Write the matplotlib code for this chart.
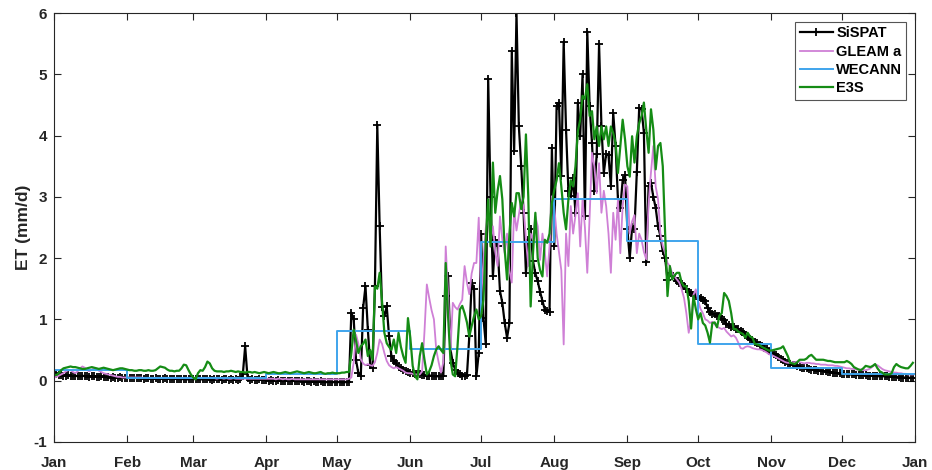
import numpy as np
import matplotlib
matplotlib.use('Agg')
import matplotlib.pyplot as plt

plt.rcParams['font.family'] = ['Liberation Sans', 'DejaVu Sans']
plt.rcParams['font.weight'] = 'bold'
plt.rcParams['axes.unicode_minus'] = False

month_labels = ['Jan', 'Feb', 'Mar', 'Apr', 'May', 'Jun', 'Jul',
                'Aug', 'Sep', 'Oct', 'Nov', 'Dec', 'Jan']
month_days = [31, 28, 31, 30, 31, 30, 31, 31, 30, 31, 30, 31]

# daily ET (mm/d), one line per month
sispat = [
    0.12, 0.10, 0.09, 0.09, 0.08, 0.08, 0.09, 0.08, 0.07, 0.08, 0.07, 0.07, 0.08, 0.07, 0.07, 0.06,
    0.07, 0.07, 0.06, 0.06, 0.07, 0.06, 0.06, 0.06, 0.05, 0.06, 0.05, 0.05, 0.06, 0.05, 0.05,
    0.05, 0.04, 0.04, 0.05, 0.04, 0.04, 0.04, 0.03, 0.04, 0.04, 0.03, 0.03, 0.04, 0.03, 0.03, 0.03,
    0.04, 0.03, 0.03, 0.02, 0.03, 0.03, 0.03, 0.02, 0.03, 0.02, 0.02, 0.03,
    0.02, 0.03, 0.02, 0.02, 0.02, 0.03, 0.02, 0.02, 0.01, 0.02, 0.02, 0.02, 0.01, 0.02, 0.02, 0.01,
    0.02, 0.01, 0.02, 0.01, 0.03, 0.10, 0.56, 0.05, 0.01, 0.02, 0.01, 0.01, 0.02, 0.01, 0.01,
    0.01, 0.00, 0.01, 0.00, 0.00, 0.01, 0.00, -0.01, 0.00, 0.00, -0.01, 0.00, -0.01, -0.01, 0.00,
    -0.01, -0.02, -0.01, -0.01, -0.02, -0.01, -0.02, -0.02, -0.01, -0.02, -0.03, -0.02, -0.02, -0.03, -0.02,
    -0.03, -0.02, -0.03, -0.03, -0.02, -0.03, 1.11, 1.00, 0.33, 0.12, 0.07, 1.19, 1.54, 0.83, 0.26, 0.21,
    1.54, 4.17, 2.52, 1.20, 1.05, 1.21, 0.72, 0.40, 0.32, 0.28, 0.22, 0.20, 0.17, 0.15, 0.14,
    0.13, 0.12, 0.11, 0.10, 0.10, 0.09, 0.09, 0.08, 0.08, 0.08, 0.07, 0.07, 0.07, 0.07, 0.08,
    1.38, 1.70, 0.51, 0.29, 0.18, 0.13, 0.10, 0.08, 0.07, 0.09, 0.72, 1.60, 1.50, 0.07, 0.45,
    2.39, 1.02, 0.59, 4.93, 3.00, 1.70, 2.30, 2.20, 1.46, 1.27, 0.94, 0.70, 0.94, 5.38, 3.75, 6.00,
    4.15, 3.50, 2.74, 1.76, 2.30, 2.47, 1.95, 1.75, 1.62, 1.45, 1.30, 1.16, 1.13, 1.12, 3.80,
    2.19, 4.48, 4.54, 3.34, 5.53, 4.10, 3.10, 3.01, 3.30, 2.74, 4.54, 3.99, 5.00, 2.68, 5.70, 4.48,
    3.88, 3.09, 3.70, 5.49, 4.16, 3.39, 3.70, 3.68, 3.17, 4.37, 3.83, 2.96, 2.82, 3.27, 3.35,
    2.47, 2.00, 2.50, 2.48, 3.40, 4.45, 4.43, 4.05, 1.93, 3.17, 3.23, 3.00, 2.82, 2.52, 2.36,
    2.11, 2.00, 1.65, 1.75, 1.70, 1.68, 1.62, 1.60, 1.58, 1.54, 1.50, 1.45, 1.43, 1.40, 1.38,
    1.36, 1.35, 1.31, 1.30, 1.18, 1.12, 1.09, 1.08, 1.06, 1.05, 1.01, 0.99, 0.93, 0.90, 0.87, 0.88,
    0.85, 0.84, 0.81, 0.80, 0.75, 0.71, 0.68, 0.66, 0.63, 0.62, 0.58, 0.56, 0.53, 0.51, 0.48,
    0.45, 0.43, 0.41, 0.38, 0.35, 0.34, 0.31, 0.29, 0.27, 0.26, 0.25, 0.23, 0.22, 0.21, 0.20,
    0.20, 0.19, 0.18, 0.17, 0.17, 0.16, 0.16, 0.15, 0.15, 0.14, 0.14, 0.13, 0.13, 0.12, 0.12,
    0.11, 0.11, 0.10, 0.10, 0.10, 0.10, 0.09, 0.09, 0.09, 0.09, 0.09, 0.08, 0.08, 0.08, 0.08, 0.07,
    0.07, 0.07, 0.07, 0.07, 0.06, 0.06, 0.06, 0.06, 0.06, 0.05, 0.05, 0.05, 0.05, 0.04, 0.05,
]

gleam = [
    0.05, 0.06, 0.08, 0.10, 0.12, 0.15, 0.17, 0.17, 0.14, 0.12, 0.15, 0.20, 0.23, 0.21, 0.17, 0.15,
    0.18, 0.20, 0.19, 0.16, 0.14, 0.12, 0.11, 0.10, 0.09, 0.08, 0.07, 0.06, 0.06, 0.05, 0.05,
    0.05, 0.05, 0.05, 0.05, 0.05, 0.05, 0.05, 0.04, 0.04, 0.04, 0.04, 0.04, 0.04, 0.04,
    0.04, 0.04, 0.04, 0.04, 0.04, 0.04, 0.04, 0.04, 0.04, 0.04, 0.04, 0.04, 0.04, 0.04,
    0.04, 0.04, 0.04, 0.04, 0.04, 0.04, 0.04, 0.04, 0.04, 0.04, 0.03, 0.04, 0.04, 0.03, 0.04, 0.03,
    0.03, 0.04, 0.03, 0.03, 0.03, 0.03, 0.03, 0.03, 0.03, 0.03, 0.03, 0.03, 0.03, 0.03, 0.03,
    0.03, 0.03, 0.03, 0.03, 0.02, 0.03, 0.03, 0.02, 0.03, 0.02, 0.02, 0.03, 0.02, 0.02, 0.02,
    0.02, 0.02, 0.02, 0.02, 0.02, 0.02, 0.02, 0.02, 0.02, 0.02, 0.02, 0.02, 0.02, 0.02, 0.02,
    0.02, 0.02, 0.02, 0.02, 0.02, 0.03, 0.05, 0.30, 0.75, 0.60, 0.35, 0.28, 0.25, 0.27, 0.25, 0.24,
    0.30, 0.45, 0.67, 0.60, 0.45, 0.32, 0.25, 0.22, 0.20, 0.22, 0.20, 0.18, 0.16, 0.13, 0.12,
    0.12, 0.11, 0.10, 0.10, 0.10, 0.15, 0.80, 1.57, 1.35, 1.15, 1.00, 0.50, 0.30, 0.13, 0.30,
    2.19, 1.41, 0.48, 1.27, 1.20, 1.16, 1.25, 1.32, 1.87, 1.60, 1.41, 1.75, 1.92, 1.92, 2.66,
    1.32, 1.97, 2.50, 2.68, 2.30, 2.52, 2.10, 1.87, 2.68, 2.30, 2.08, 2.40, 1.80, 1.60, 2.80, 2.45,
    2.70, 2.96, 2.85, 2.30, 1.87, 2.40, 2.30, 2.68, 2.52, 1.97, 2.40, 2.10, 1.70, 2.19, 3.01,
    2.85, 2.40, 2.10, 1.80, 0.59, 2.40, 1.87, 2.85, 2.40, 2.70, 3.06, 2.19, 2.96, 2.50, 1.76, 2.68,
    3.72, 3.50, 3.06, 3.55, 2.74, 3.10, 2.85, 2.40, 1.76, 2.74, 2.30, 2.96, 2.08, 2.85, 3.20,
    3.17, 2.40, 2.60, 2.70, 2.08, 2.40, 2.30, 2.10, 1.98, 2.90, 3.40, 3.83, 3.17, 2.96, 2.40,
    2.20, 2.08, 1.92, 1.87, 1.75, 1.70, 1.65, 1.60, 1.49, 1.35, 1.10, 0.78, 1.00, 1.40, 1.49,
    1.30, 1.17, 1.10, 1.00, 0.98, 0.94, 0.96, 0.92, 0.88, 0.86, 0.84, 0.86, 0.80, 0.76, 0.72, 0.74,
    0.70, 0.62, 0.53, 0.52, 0.55, 0.56, 0.55, 0.53, 0.52, 0.51, 0.51, 0.50, 0.48, 0.46, 0.43,
    0.42, 0.40, 0.38, 0.36, 0.34, 0.32, 0.30, 0.29, 0.29, 0.30, 0.30, 0.31, 0.30, 0.29, 0.28,
    0.29, 0.29, 0.28, 0.28, 0.27, 0.27, 0.26, 0.26, 0.26, 0.25, 0.25, 0.25, 0.24, 0.24, 0.23,
    0.22, 0.21, 0.20, 0.20, 0.19, 0.19, 0.18, 0.18, 0.18, 0.17, 0.17, 0.18, 0.20, 0.23, 0.26, 0.25,
    0.22, 0.19, 0.17, 0.16, 0.15, 0.14, 0.13, 0.13, 0.12, 0.12, 0.11, 0.11, 0.10, 0.10, 0.10,
]

e3s = [
    0.10, 0.09, 0.12, 0.17, 0.20, 0.21, 0.22, 0.23, 0.22, 0.22, 0.21, 0.20, 0.19, 0.19, 0.20, 0.21,
    0.22, 0.21, 0.20, 0.19, 0.20, 0.21, 0.20, 0.19, 0.18, 0.17, 0.18, 0.19, 0.20, 0.20, 0.19,
    0.18, 0.17, 0.17, 0.16, 0.16, 0.17, 0.17, 0.16, 0.16, 0.17, 0.16, 0.16, 0.17, 0.20,
    0.23, 0.22, 0.21, 0.18, 0.16, 0.16, 0.15, 0.16, 0.16, 0.20, 0.26, 0.25, 0.17, 0.10,
    0.05, 0.02, 0.12, 0.17, 0.16, 0.22, 0.31, 0.28, 0.20, 0.16, 0.15, 0.15, 0.15, 0.14, 0.15, 0.15,
    0.16, 0.15, 0.14, 0.15, 0.14, 0.14, 0.13, 0.14, 0.14, 0.13, 0.14, 0.13, 0.12, 0.13, 0.14,
    0.13, 0.12, 0.13, 0.14, 0.13, 0.12, 0.12, 0.13, 0.14, 0.13, 0.12, 0.13, 0.14, 0.15, 0.14,
    0.13, 0.12, 0.13, 0.14, 0.13, 0.12, 0.12, 0.13, 0.14, 0.12, 0.11, 0.12, 0.12, 0.13, 0.12,
    0.12, 0.12, 0.13, 0.13, 0.14, 0.14, 0.45, 0.83, 0.65, 0.45, 0.56, 0.60, 0.67, 0.40, 0.50, 0.34,
    1.54, 1.50, 1.76, 1.30, 0.78, 0.61, 0.55, 0.50, 0.67, 0.45, 0.78, 0.55, 0.40, 0.29, 1.02,
    0.70, 0.24, 0.07, 0.02, 0.40, 0.61, 0.34, 0.10, 0.15, 0.25, 0.40, 0.51, 0.56, 0.50, 0.45,
    1.92, 1.05, 0.34, 0.10, 0.07, 0.56, 1.16, 1.22, 1.10, 0.95, 0.72, 0.89, 1.05, 1.16, 1.00,
    1.05, 1.32, 2.30, 2.96, 2.19, 3.56, 2.74, 3.10, 3.34, 2.96, 2.14, 1.65, 2.40, 2.90, 2.68, 3.06,
    3.06, 2.80, 3.00, 4.02, 3.00, 1.21, 2.08, 2.74, 2.00, 1.80, 1.70, 2.30, 2.25, 2.40, 2.90,
    3.11, 3.27, 3.55, 3.17, 2.74, 2.47, 2.96, 3.27, 3.17, 3.50, 4.07, 4.26, 4.65, 4.60, 4.84, 4.32,
    4.40, 3.94, 4.15, 3.83, 4.15, 3.94, 4.15, 3.83, 4.15, 4.04, 3.88, 3.39, 3.83, 4.26, 3.94,
    3.50, 3.33, 3.99, 3.56, 3.99, 4.20, 4.32, 4.54, 4.10, 3.72, 4.43, 4.10, 3.45, 3.83, 3.88,
    3.50, 2.40, 1.38, 1.87, 1.65, 1.72, 1.76, 1.76, 1.60, 1.54, 1.54, 1.30, 0.85, 1.38, 1.17,
    1.00, 1.10, 0.94, 0.90, 0.78, 0.62, 0.94, 0.95, 0.87, 1.06, 1.10, 1.43, 1.38, 1.30, 1.10, 0.84,
    0.84, 0.80, 0.78, 0.76, 0.70, 0.78, 0.72, 0.70, 0.60, 0.59, 0.58, 0.55, 0.53, 0.51, 0.49,
    0.49, 0.50, 0.51, 0.52, 0.53, 0.56, 0.48, 0.40, 0.29, 0.28, 0.27, 0.30, 0.34, 0.34, 0.34,
    0.36, 0.40, 0.42, 0.38, 0.34, 0.34, 0.34, 0.34, 0.33, 0.32, 0.32, 0.31, 0.30, 0.30, 0.30,
    0.30, 0.30, 0.32, 0.30, 0.27, 0.22, 0.20, 0.18, 0.17, 0.20, 0.24, 0.23, 0.22, 0.24, 0.27, 0.20,
    0.15, 0.13, 0.10, 0.10, 0.10, 0.12, 0.22, 0.27, 0.24, 0.22, 0.21, 0.20, 0.20, 0.24, 0.29,
]

# WECANN is monthly
wecann = [0.18, 0.05, 0.05, 0.11, 0.81, 0.51, 2.26, 2.97, 2.28, 0.59, 0.21, 0.10]

month_starts = np.concatenate([[0], np.cumsum(month_days)])
days = np.arange(len(sispat))

fig = plt.figure(figsize=(9.32, 4.70), dpi=100)
ax = fig.add_axes([0.058, 0.06, 0.924, 0.912])

ax.plot(days, sispat, color='black', lw=1.6, marker='+', ms=6, mew=1.3, label='SiSPAT')
ax.plot(np.arange(len(gleam)), gleam, color='#CF80D6', lw=1.3, label='GLEAM a')
ax.step(month_starts, wecann + [wecann[-1]], where='post', color='#3FA4EC', lw=1.4, label='WECANN')
ax.plot(np.arange(len(e3s)), e3s, color='#158C15', lw=1.6, label='E3S')

ax.set_xlim(0, 365)
ax.set_ylim(-1, 6)
ax.set_xticks(month_starts)
ax.set_xticklabels(month_labels)
ax.set_yticks(range(-1, 7))
ax.set_ylabel('ET (mm/d)', fontsize=12.5, fontweight='bold', color='#262626', labelpad=2)

ax.tick_params(direction='in', length=5, width=0.8, top=True, right=True,
               labelsize=11, colors='#262626')
ax.tick_params(axis='x', pad=10)
ax.tick_params(axis='y', pad=5)
for s in ax.spines.values():
    s.set_color('#262626')
    s.set_linewidth(0.8)

leg = ax.legend(loc='upper right', fontsize=10.5, frameon=True, fancybox=False,
                edgecolor='#555555', framealpha=1, handlelength=2.3, handletextpad=0.2,
                labelspacing=0.3, borderpad=0.3, borderaxespad=0.6)
leg.get_frame().set_linewidth(0.8)
for t in leg.get_texts():
    t.set_fontweight('bold')

fig.savefig('out.png', dpi=100)
